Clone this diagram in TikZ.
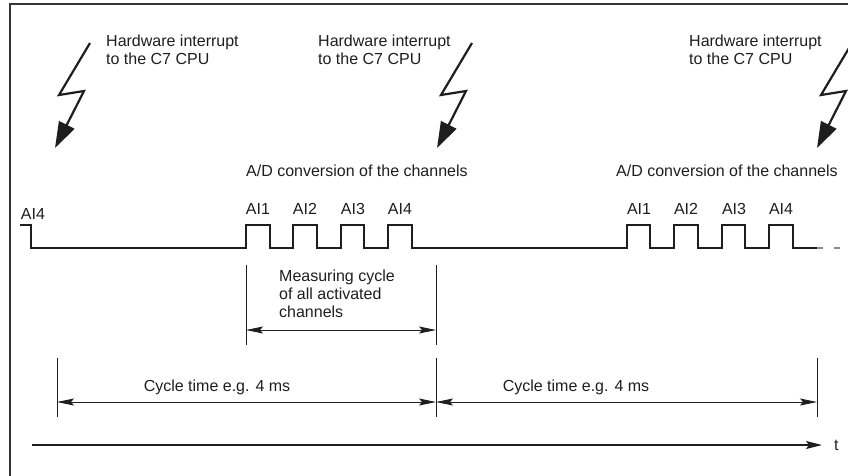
\documentclass[tikz,border=0pt]{standalone}
\usepackage{fontspec}
\setmainfont{Liberation Sans}
\usetikzlibrary{arrows.meta}
\definecolor{ink}{HTML}{1E1E1E}
\definecolor{dashgrey}{HTML}{8A8A8A}
\tikzset{
  lbl/.style={inner sep=0pt, text=ink, font=\fontsize{16}{18}\selectfont, align=left},
  cyc/.style={inner sep=0pt, text=ink, font=\fontsize{16}{18}\selectfont},
  sig/.style={draw=ink, line width=2pt, line join=miter},
  bolt/.style={draw=ink, line width=2.2pt, line join=miter, -{Triangle[length=26pt,width=17pt]}},
  ext/.style={draw=ink, line width=0.9pt},
  dim/.style={draw=ink, line width=0.9pt, {Stealth[length=17pt,width=7pt,inset=3pt]}-{Stealth[length=17pt,width=7pt,inset=3pt]}},
  axis/.style={draw=ink, line width=1.1pt, -{Stealth[length=16pt,width=8pt,inset=3pt]}},
  frame/.style={draw=ink!90, line width=1.4pt}
}
\begin{document}
\begin{tikzpicture}[x=1pt,y=-1pt]
\useasboundingbox (0,0) rectangle (848,475);
\clip (0,0) rectangle (848,475);
% frame
\draw[frame] (10,476) -- (10,4) -- (849,4);
% lightning bolts
\draw[bolt] (90,43) -- (59,95) -- (84,91) -- (55,148);
\draw[bolt] (472,43) -- (441,95) -- (466,91) -- (437,148);
\draw[bolt] (852,43) -- (821,95) -- (846,91) -- (817,148);
% interrupt texts
\node[lbl, anchor=north west] (hw1) at (106,35) {Hardware interrupt\\to the C7 CPU};
\node[lbl, anchor=north west] (hw2) at (318,35) {Hardware interrupt\\to the C7 CPU};
\node[lbl, anchor=north west] (hw3) at (689,35) {Hardware interrupt\\to the C7 CPU};
% A/D conversion texts
\node[lbl, anchor=base west] (ad1) at (246,176) {A/D conversion of the channels};
\node[lbl, anchor=base west] (ad2) at (616,176) {A/D conversion of the channels};
% signal
\draw[sig] (20,225) -- (31,225) -- (31,248) -- (246,248) -- (246,225) -- (270,225) -- (270,248)
  -- (293,248) -- (293,225) -- (317,225) -- (317,248) -- (341,248) -- (341,225) -- (364,225)
  -- (364,248) -- (388,248) -- (388,225) -- (412,225) -- (412,248) -- (627,248) -- (627,225)
  -- (650,225) -- (650,248) -- (674,248) -- (674,225) -- (698,225) -- (698,248) -- (722,248)
  -- (722,225) -- (745,225) -- (745,248) -- (769,248) -- (769,225) -- (793,225) -- (793,248)
  -- (817,248);
\draw[dashgrey, line width=1.5pt] (817,248) -- (823,248) (834,248) -- (840,248);
% channel labels
\node[lbl, anchor=base] (a0) at (33,219) {AI4};
\node[lbl, anchor=base] (a1) at (258,214) {AI1};
\node[lbl, anchor=base] (a2) at (305,214) {AI2};
\node[lbl, anchor=base] (a3) at (353,214) {AI3};
\node[lbl, anchor=base] (a4) at (400,214) {AI4};
\node[lbl, anchor=base] (b1) at (639,214) {AI1};
\node[lbl, anchor=base] (b2) at (686,214) {AI2};
\node[lbl, anchor=base] (b3) at (734,214) {AI3};
\node[lbl, anchor=base] (b4) at (781,214) {AI4};
% measuring cycle
\coordinate (m1t) at (246,265); \coordinate (m1b) at (246,345);
\coordinate (m2t) at (436,265); \coordinate (m2b) at (436,345);
\draw[ext] (m1t) -- (m1b);
\draw[ext] (m2t) -- (m2b);
\coordinate (ma) at (246,330); \coordinate (mb) at (436,330);
\draw[dim] (ma) -- (mb);
\node[lbl, anchor=north west] (mc) at (279,270) {Measuring cycle\\of all activated\\channels};
% cycle times
\coordinate (c1t) at (57,358); \coordinate (c1b) at (57,417);
\coordinate (c2t) at (436,358); \coordinate (c2b) at (436,417);
\coordinate (c3t) at (817,358); \coordinate (c3b) at (817,417);
\draw[ext] (c1t) -- (c1b);
\draw[ext] (c2t) -- (c2b);
\draw[ext] (c3t) -- (c3b);
\coordinate (d1) at (57,402); \coordinate (d2) at (436,402); \coordinate (d3) at (817,402);
\draw[dim] (d1) -- (d2);
\draw[dim] (d2) -- (d3);
\node[cyc, anchor=base] (ct1) at (217,391) {Cycle time e.g. 4 ms};
\node[cyc, anchor=base] (ct2) at (576,391) {Cycle time e.g. 4 ms};
% time axis
\coordinate (t0) at (32,445); \coordinate (t1) at (822,445);
\draw[axis] (t0) -- (t1);
\node[lbl, anchor=west] (tl) at (834,445) {t};
\end{tikzpicture}
\end{document}
